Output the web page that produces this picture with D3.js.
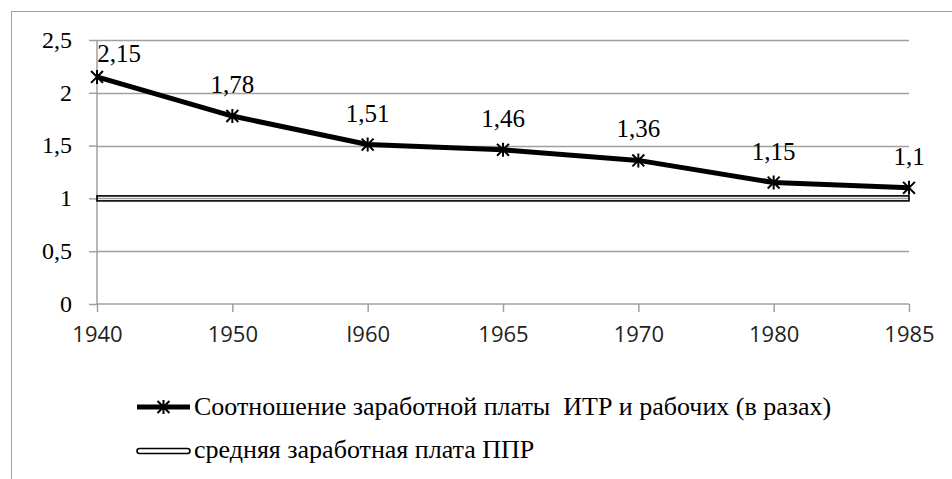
<!DOCTYPE html>
<html>
<head>
<meta charset="utf-8">
<script src="https://cdn.jsdelivr.net/npm/d3@7"></script>
<style>
  body { margin: 0; background: #fff; }
  svg { display: block; }
</style>
</head>
<body>
<div id="chart"></div>
<script>
// chart data
const years = ["1940", "1950", "I960", "1965", "1970", "1980", "1985"];
const ratioValues = [2.15, 1.78, 1.51, 1.46, 1.36, 1.15, 1.1];
const avgWageValues = [1, 1, 1, 1, 1, 1, 1];
const yTickValues = [0, 0.5, 1, 1.5, 2, 2.5];
const seriesNames = [
    "Соотношение заработной платы  ИТР и рабочих (в разах)",
    "средняя заработная плата ППР"
];

const W = 952, H = 479;
const serif = "Liberation Serif";
const sans = "Open Sans";
const gridColor = "#a0a0a0";

const svg = d3.select("#chart").append("svg")
    .attr("width", W)
    .attr("height", H);

// outer chart border (only top and left visible in the picture)
svg.append("rect")
    .attr("x", 11.5)
    .attr("y", 11.5)
    .attr("width", W)
    .attr("height", H)
    .attr("fill", "none")
    .attr("stroke", gridColor);

const x = d3.scalePoint().domain(years).range([97, 909]);
const y = d3.scaleLinear().domain([0, 2.5]).range([304, 40]);

const fmt = v => String(v).replace(".", ",");

// gridlines
svg.append("g")
    .selectAll("line")
    .data(yTickValues.filter(d => d > 0))
    .join("line")
    .attr("x1", x.range()[0])
    .attr("x2", x.range()[1])
    .attr("y1", d => Math.round(y(d)) + 0.5)
    .attr("y2", d => Math.round(y(d)) + 0.5)
    .attr("stroke", gridColor)
    .attr("stroke-width", 1.5);

// y axis
const yAxisG = svg.append("g")
    .attr("transform", `translate(${x.range()[0]},0)`)
    .call(d3.axisLeft(y).tickValues(yTickValues).tickFormat(fmt).tickSize(8).tickPadding(17));
yAxisG.select(".domain").attr("stroke", gridColor).attr("stroke-width", 1.5)
    .attr("d", `M0,${y(2.5)}V${y(0)}`);
yAxisG.selectAll(".tick line").attr("stroke", gridColor).attr("stroke-width", 1.5);
yAxisG.selectAll(".tick text")
    .attr("font-family", serif)
    .attr("font-size", 24)
    .attr("fill", "#000")
    .attr("dy", "0.3em");

// x axis
const xAxisG = svg.append("g")
    .attr("transform", `translate(0,${y(0)})`)
    .call(d3.axisBottom(x).tickSize(8).tickPadding(14));
xAxisG.select(".domain").attr("stroke", gridColor).attr("stroke-width", 1.5)
    .attr("d", `M${x.range()[0]},0H${x.range()[1]}`);
xAxisG.selectAll(".tick line").attr("stroke", gridColor).attr("stroke-width", 1.5);
xAxisG.selectAll(".tick text")
    .attr("font-family", sans)
    .attr("font-size", 22)
    .attr("fill", "#222");

// asterisk marker (X plus vertical stroke)
function starPath(cx, cy, r) {
    const d = r * 0.85;
    return `M${cx},${cy - r}V${cy + r}` +
        `M${cx - d},${cy - d}L${cx + d},${cy + d}` +
        `M${cx - d},${cy + d}L${cx + d},${cy - d}`;
}

// series 2: double line at 1
const avgPts = years.map((yr, i) => ({ yr, v: avgWageValues[i] }));
const avgY = y(avgPts[0].v);
svg.append("rect")
    .attr("x", x(avgPts[0].yr))
    .attr("y", avgY - 2.5)
    .attr("width", x(avgPts[avgPts.length - 1].yr) - x(avgPts[0].yr))
    .attr("height", 5)
    .attr("fill", "none")
    .attr("stroke", "#000")
    .attr("stroke-width", 1.6);

// series 1: ratio line
const ratioPts = years.map((yr, i) => ({ yr, v: ratioValues[i] }));
const line = d3.line().x(d => x(d.yr)).y(d => y(d.v));
svg.append("path")
    .datum(ratioPts)
    .attr("d", line)
    .attr("fill", "none")
    .attr("stroke", "#000")
    .attr("stroke-width", 5)
    .attr("stroke-linejoin", "round");

svg.append("g")
    .selectAll("path")
    .data(ratioPts)
    .join("path")
    .attr("d", d => starPath(x(d.yr), y(d.v), 7))
    .attr("fill", "none")
    .attr("stroke", "#000")
    .attr("stroke-width", 2);

// data labels
svg.append("g")
    .selectAll("text")
    .data(ratioPts)
    .join("text")
    .attr("font-family", serif)
    .attr("font-size", 25)
    .attr("x", (d, i) => i === 0 ? x(d.yr) + 22 : x(d.yr))
    .attr("y", d => Math.max(y(d.v) - 23, y(2.5) + 22))
    .attr("text-anchor", "middle")
    .text(d => fmt(d.v));

// legend
const legend = svg.append("g");
const lx1 = 137, lx2 = 190, ly = [407, 451];

legend.append("line")
    .attr("x1", lx1).attr("x2", lx2)
    .attr("y1", ly[0]).attr("y2", ly[0])
    .attr("stroke", "#000")
    .attr("stroke-width", 5);
legend.append("path")
    .attr("d", starPath((lx1 + lx2) / 2, ly[0], 7))
    .attr("fill", "none")
    .attr("stroke", "#000")
    .attr("stroke-width", 2);

legend.append("rect")
    .attr("x", lx1).attr("y", ly[1] - 2.5)
    .attr("width", lx2 - lx1).attr("height", 5)
    .attr("rx", 2.5)
    .attr("fill", "#fff")
    .attr("stroke", "#000")
    .attr("stroke-width", 1.6);

legend.selectAll("text")
    .data(seriesNames)
    .join("text")
    .attr("font-family", serif)
    .attr("font-size", 26)
    .attr("x", lx2 + 4)
    .attr("y", (d, i) => ly[i] + (i === 0 ? 8 : 7))
    .attr("xml:space", "preserve")
    .text(d => d);
</script>
</body>
</html>
